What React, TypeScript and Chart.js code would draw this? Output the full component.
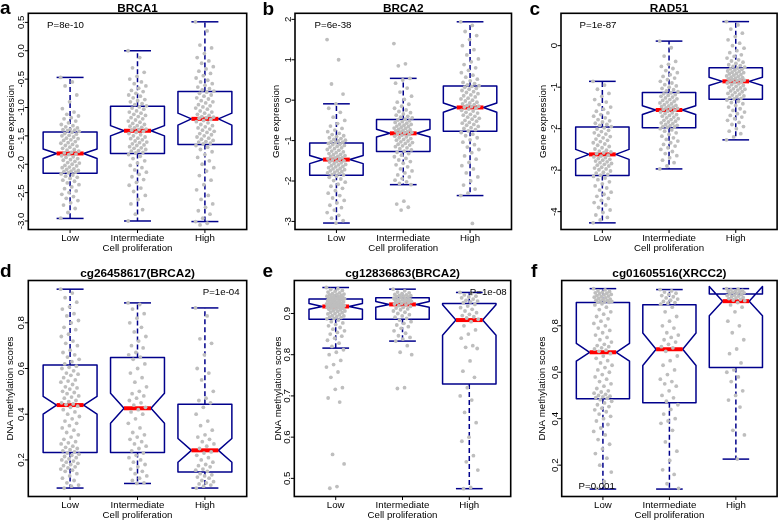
import React, { useEffect, useRef } from 'react';
import { Chart, registerables } from 'chart.js';

Chart.register(...registerables);

const categories = ['Low', 'Intermediate', 'High'];
const xAxisTitle = 'Cell proliferation';

// box stats: [lowerWhisker, q1, notchLow, median, notchHigh, q3, upperWhisker]

// ---- Panel a : BRCA1
const aTitle = 'BRCA1';
const aYLabel = 'Gene expression';
const aPValue = 'P=8e-10';
const aTicks = [0.5, 0, -0.5, -1, -1.5, -2, -2.5, -3];
const aRange = [-3.15, 0.66];
const aBoxLow = [-2.955, -2.16, -1.9, -1.81, -1.73, -1.43, -0.47];
const aBoxInt = [-3.0, -1.81, -1.5, -1.41, -1.32, -0.98, 0.0];
const aBoxHigh = [-3.01, -1.65, -1.31, -1.2, -1.1, -0.72, 0.51];
const aLow = [-0.47, -0.55, -0.62, -0.78, -0.9, -1.02, -1.08, -1.12, -1.15, -1.18, -1.2, -1.24, -1.27, -1.3, -1.32, -1.34, -1.36, -1.38, -1.39, -1.4, -1.41, -1.42,
  -1.44, -1.46, -1.47, -1.49, -1.5, -1.52, -1.54, -1.55, -1.57, -1.58, -1.6, -1.62, -1.63, -1.65, -1.67, -1.68, -1.7, -1.72, -1.74, -1.75, -1.77, -1.79, -1.8,
  -1.82, -1.83, -1.85, -1.87, -1.88, -1.9, -1.92, -1.93, -1.95, -1.97, -1.98, -2.0, -2.02, -2.03, -2.05, -2.06, -2.08, -2.09, -2.11, -2.12, -2.13, -2.14, -2.15,
  -2.17, -2.19, -2.21, -2.23, -2.25, -2.28, -2.3, -2.33, -2.36, -2.4, -2.43, -2.47, -2.5, -2.53, -2.57, -2.6, -2.64, -2.68, -2.72, -2.78, -2.85, -2.95];
const aInt = [0.0, -0.12, -0.3, -0.38, -0.45, -0.5, -0.55, -0.58, -0.62, -0.66, -0.7, -0.72, -0.75, -0.78, -0.8, -0.83, -0.86, -0.88, -0.9, -0.93, -0.95, -0.97,
  -0.99, -1.01, -1.03, -1.06, -1.08, -1.1, -1.12, -1.14, -1.16, -1.18, -1.2, -1.22, -1.24, -1.26, -1.28, -1.3, -1.32, -1.33, -1.35, -1.36, -1.38, -1.39, -1.4,
  -1.42, -1.44, -1.46, -1.48, -1.5, -1.52, -1.54, -1.55, -1.57, -1.59, -1.61, -1.62, -1.64, -1.66, -1.67, -1.69, -1.71, -1.72, -1.74, -1.76, -1.77, -1.79, -1.8,
  -1.83, -1.86, -1.9, -1.94, -1.98, -2.02, -2.06, -2.1, -2.14, -2.18, -2.22, -2.27, -2.32, -2.37, -2.42, -2.48, -2.55, -2.62, -2.7, -2.8, -2.88, -3.0];
const aHigh = [0.51, 0.35, 0.1, 0.05, -0.05, -0.12, -0.18, -0.22, -0.28, -0.32, -0.36, -0.4, -0.44, -0.48, -0.52, -0.55, -0.58, -0.61, -0.64, -0.67, -0.69, -0.71,
  -0.73, -0.75, -0.78, -0.8, -0.83, -0.85, -0.88, -0.9, -0.92, -0.95, -0.97, -0.99, -1.01, -1.03, -1.06, -1.08, -1.1, -1.12, -1.14, -1.16, -1.17, -1.18, -1.19,
  -1.21, -1.23, -1.25, -1.27, -1.3, -1.32, -1.34, -1.36, -1.38, -1.4, -1.42, -1.44, -1.46, -1.48, -1.5, -1.52, -1.54, -1.56, -1.58, -1.6, -1.61, -1.63, -1.64,
  -1.67, -1.7, -1.74, -1.78, -1.83, -1.88, -1.94, -2.0, -2.06, -2.12, -2.2, -2.28, -2.36, -2.45, -2.55, -2.62, -2.7, -2.76, -2.82, -2.88, -2.95, -3.01, -3.04, -3.07];

// ---- Panel b : BRCA2
const bTitle = 'BRCA2';
const bYLabel = 'Gene expression';
const bPValue = 'P=6e-38';
const bTicks = [2, 1, 0, -1, -2, -3];
const bRange = [-3.2, 2.15];
const bBoxLow = [-3.04, -1.86, -1.57, -1.47, -1.37, -1.06, -0.09];
const bBoxInt = [-2.09, -1.27, -0.91, -0.82, -0.72, -0.48, 0.54];
const bBoxHigh = [-2.36, -0.77, -0.3, -0.18, -0.07, 0.35, 1.94];
const bLow = [1.5, 1.0, 0.4, 0.15, -0.09, -0.2, -0.3, -0.42, -0.5, -0.58, -0.64, -0.7, -0.74, -0.78, -0.82, -0.85, -0.88, -0.9, -0.93, -0.95, -0.97, -0.99, -1.01, -1.03, -1.04, -1.05,
  -1.07, -1.09, -1.1, -1.12, -1.14, -1.16, -1.18, -1.2, -1.22, -1.24, -1.26, -1.28, -1.3, -1.32, -1.34, -1.35, -1.37, -1.39, -1.4, -1.42, -1.43, -1.45, -1.46,
  -1.48, -1.5, -1.52, -1.53, -1.55, -1.57, -1.59, -1.6, -1.62, -1.64, -1.65, -1.67, -1.69, -1.7, -1.72, -1.74, -1.75, -1.77, -1.79, -1.8, -1.82, -1.84, -1.85,
  -1.88, -1.91, -1.95, -1.99, -2.03, -2.08, -2.13, -2.18, -2.24, -2.3, -2.36, -2.42, -2.48, -2.54, -2.6, -2.66, -2.72, -2.78, -2.85, -2.92, -2.98, -3.04];
const bInt = [1.4, 0.9, 0.85, 0.54, 0.5, 0.42, 0.3, 0.2, 0.1, 0.02, -0.05, -0.1, -0.15, -0.2, -0.24, -0.28, -0.31, -0.34, -0.37, -0.4, -0.42, -0.44, -0.47,
  -0.49, -0.51, -0.53, -0.55, -0.57, -0.59, -0.6, -0.62, -0.64, -0.65, -0.67, -0.69, -0.7, -0.72, -0.73, -0.75, -0.76, -0.78, -0.79, -0.8, -0.81,
  -0.83, -0.85, -0.87, -0.89, -0.91, -0.93, -0.95, -0.97, -0.99, -1.01, -1.03, -1.05, -1.07, -1.09, -1.11, -1.13, -1.15, -1.18, -1.2, -1.23, -1.26,
  -1.29, -1.32, -1.36, -1.4, -1.44, -1.48, -1.52, -1.56, -1.6, -1.65, -1.7, -1.75, -1.8, -1.85, -1.9, -1.94, -1.98, -2.02, -2.06, -2.09, -2.5, -2.57, -2.65, -2.72];
const bHigh = [1.94, 1.85, 1.7, 1.6, 1.5, 1.35, 1.25, 1.12, 1.02, 0.95, 0.88, 0.8, 0.74, 0.68, 0.62, 0.57, 0.52, 0.48, 0.44, 0.41, 0.38, 0.36,
  0.34, 0.32, 0.29, 0.27, 0.24, 0.21, 0.19, 0.16, 0.13, 0.11, 0.08, 0.05, 0.03, 0.0, -0.02, -0.05, -0.07, -0.09, -0.11, -0.13, -0.15, -0.16, -0.17,
  -0.2, -0.22, -0.25, -0.27, -0.3, -0.32, -0.35, -0.37, -0.4, -0.42, -0.45, -0.47, -0.5, -0.52, -0.55, -0.57, -0.6, -0.62, -0.65, -0.68, -0.7, -0.73, -0.76,
  -0.8, -0.84, -0.88, -0.93, -0.98, -1.04, -1.1, -1.16, -1.22, -1.3, -1.38, -1.46, -1.54, -1.62, -1.7, -1.8, -1.9, -2.0, -2.1, -2.2, -2.3, -2.36, -3.05];

// ---- Panel c : RAD51
const cTitle = 'RAD51';
const cYLabel = 'Gene expression';
const cPValue = 'P=1e-87';
const cTicks = [0, -1, -2, -3, -4];
const cRange = [-4.43, 0.78];
const cBoxLow = [-4.27, -3.13, -2.74, -2.62, -2.5, -1.96, -0.86];
const cBoxInt = [-2.97, -1.98, -1.66, -1.55, -1.45, -1.13, 0.11];
const cBoxHigh = [-2.27, -1.29, -0.96, -0.86, -0.76, -0.53, 0.58];
const cLow = [-0.86, -0.95, -1.05, -1.15, -1.22, -1.3, -1.36, -1.42, -1.48, -1.53, -1.58, -1.62, -1.66, -1.7, -1.74, -1.78, -1.81, -1.84, -1.87, -1.9, -1.92, -1.95,
  -1.98, -2.01, -2.04, -2.07, -2.1, -2.13, -2.16, -2.19, -2.22, -2.25, -2.28, -2.31, -2.34, -2.37, -2.4, -2.43, -2.46, -2.49, -2.52, -2.54, -2.56, -2.58, -2.6,
  -2.64, -2.66, -2.68, -2.7, -2.72, -2.74, -2.76, -2.78, -2.8, -2.82, -2.84, -2.86, -2.88, -2.9, -2.93, -2.95, -2.97, -2.99, -3.02, -3.05, -3.07, -3.1, -3.12,
  -3.15, -3.19, -3.23, -3.28, -3.33, -3.38, -3.43, -3.48, -3.53, -3.58, -3.63, -3.68, -3.73, -3.78, -3.84, -3.9, -3.96, -4.02, -4.08, -4.14, -4.2, -4.27];
const cInt = [0.11, -0.05, -0.25, -0.38, -0.45, -0.5, -0.55, -0.6, -0.65, -0.7, -0.74, -0.78, -0.82, -0.86, -0.9, -0.94, -0.97, -1.0, -1.03, -1.06, -1.09, -1.11,
  -1.14, -1.16, -1.18, -1.2, -1.22, -1.24, -1.26, -1.28, -1.3, -1.32, -1.34, -1.36, -1.38, -1.4, -1.42, -1.44, -1.45, -1.47, -1.48, -1.5, -1.51, -1.52, -1.54,
  -1.56, -1.58, -1.6, -1.62, -1.64, -1.66, -1.68, -1.7, -1.72, -1.74, -1.76, -1.78, -1.8, -1.82, -1.84, -1.86, -1.88, -1.9, -1.92, -1.93, -1.95, -1.96, -1.97,
  -2.0, -2.03, -2.06, -2.1, -2.14, -2.18, -2.22, -2.26, -2.3, -2.34, -2.38, -2.42, -2.46, -2.5, -2.55, -2.6, -2.65, -2.7, -2.76, -2.82, -2.9, -2.97];
const cHigh = [0.58, 0.5, 0.4, 0.3, 0.22, 0.14, 0.06, 0.0, -0.06, -0.12, -0.17, -0.22, -0.26, -0.3, -0.34, -0.37, -0.4, -0.43, -0.46, -0.48, -0.5, -0.52,
  -0.54, -0.56, -0.57, -0.59, -0.61, -0.62, -0.64, -0.65, -0.67, -0.68, -0.7, -0.71, -0.73, -0.74, -0.76, -0.77, -0.78, -0.8, -0.81, -0.82, -0.83, -0.84, -0.85,
  -0.87, -0.89, -0.9, -0.92, -0.94, -0.96, -0.98, -1.0, -1.02, -1.04, -1.05, -1.07, -1.09, -1.11, -1.13, -1.15, -1.17, -1.19, -1.21, -1.23, -1.25, -1.27, -1.28,
  -1.31, -1.34, -1.37, -1.4, -1.44, -1.48, -1.52, -1.56, -1.6, -1.64, -1.68, -1.72, -1.76, -1.8, -1.85, -1.9, -1.95, -2.0, -2.06, -2.12, -2.2, -2.27];

// ---- Panel d : cg26458617(BRCA2)
const dTitle = 'cg26458617(BRCA2)';
const dYLabel = 'DNA methylation scores';
const dPValue = 'P=1e-04';
const dTicks = [0.2, 0.4, 0.6, 0.8];
const dRange = [0.04, 0.985];
const dBoxLow = [0.077, 0.233, 0.4, 0.44, 0.478, 0.615, 0.947];
const dBoxInt = [0.097, 0.233, 0.36, 0.426, 0.492, 0.648, 0.887];
const dBoxHigh = [0.077, 0.147, 0.19, 0.242, 0.294, 0.444, 0.865];
const dLow = [0.947, 0.93, 0.91, 0.89, 0.87, 0.86, 0.84, 0.83, 0.81, 0.8, 0.78, 0.77, 0.75, 0.74, 0.72, 0.71, 0.7, 0.68, 0.67, 0.66, 0.65, 0.64, 0.63, 0.62, 0.61,
  0.605, 0.6, 0.59, 0.58, 0.575, 0.57, 0.56, 0.55, 0.545, 0.54, 0.53, 0.52, 0.515, 0.51, 0.5, 0.495, 0.49, 0.48, 0.475, 0.47, 0.46, 0.455, 0.45, 0.445, 0.442,
  0.435, 0.43, 0.42, 0.41, 0.4, 0.39, 0.38, 0.37, 0.36, 0.35, 0.34, 0.33, 0.32, 0.31, 0.3, 0.29, 0.28, 0.275, 0.27, 0.26, 0.255, 0.25, 0.245, 0.24, 0.235,
  0.23, 0.225, 0.22, 0.215, 0.21, 0.205, 0.2, 0.195, 0.19, 0.185, 0.18, 0.175, 0.17, 0.165, 0.16, 0.155, 0.15, 0.14, 0.13, 0.12, 0.11, 0.1, 0.09, 0.085, 0.077];
const dInt = [0.887, 0.88, 0.86, 0.84, 0.82, 0.8, 0.78, 0.76, 0.74, 0.72, 0.7, 0.69, 0.67, 0.66, 0.65,
  0.64, 0.62, 0.6, 0.58, 0.56, 0.54, 0.52, 0.5, 0.49, 0.48, 0.47, 0.46, 0.45, 0.44, 0.43,
  0.42, 0.41, 0.4, 0.38, 0.36, 0.34, 0.32, 0.31, 0.3, 0.29, 0.28, 0.27, 0.26, 0.25, 0.24,
  0.23, 0.22, 0.21, 0.2, 0.19, 0.18, 0.17, 0.16, 0.15, 0.14, 0.13, 0.12, 0.11, 0.1, 0.097];
const dHigh = [0.865, 0.83, 0.73, 0.71, 0.66, 0.6, 0.58, 0.55, 0.5, 0.47, 0.46, 0.45,
  0.43, 0.4, 0.37, 0.35, 0.33, 0.31, 0.3, 0.29, 0.28, 0.27, 0.26, 0.25,
  0.235, 0.23, 0.22, 0.21, 0.2, 0.19, 0.18, 0.175, 0.17, 0.16, 0.155, 0.15,
  0.14, 0.135, 0.13, 0.125, 0.12, 0.11, 0.105, 0.1, 0.095, 0.09, 0.085, 0.077];

// ---- Panel e : cg12836863(BRCA2)
const eTitle = 'cg12836863(BRCA2)';
const eYLabel = 'DNA methylation scores';
const ePValue = 'P=1e-08';
const eTicks = [0.5, 0.6, 0.7, 0.8, 0.9];
const eRange = [0.456, 0.98];
const eBoxLow = [0.816, 0.886, 0.91, 0.917, 0.924, 0.935, 0.963];
const eBoxInt = [0.833, 0.886, 0.915, 0.922, 0.929, 0.938, 0.959];
const eBoxHigh = [0.475, 0.729, 0.847, 0.884, 0.921, 0.924, 0.951];
const eLow = [0.963, 0.96, 0.958, 0.956, 0.954, 0.952, 0.95, 0.948, 0.947, 0.946, 0.945, 0.944, 0.943, 0.942, 0.941, 0.94, 0.939, 0.938, 0.937, 0.937, 0.936, 0.936, 0.935,
  0.934, 0.933, 0.932, 0.931, 0.93, 0.929, 0.928, 0.927, 0.926, 0.925, 0.924, 0.923, 0.923, 0.922, 0.921, 0.921, 0.92, 0.92, 0.919, 0.919, 0.918, 0.918, 0.917,
  0.916, 0.915, 0.914, 0.913, 0.912, 0.911, 0.91, 0.909, 0.907, 0.906, 0.905, 0.903, 0.902, 0.9, 0.899, 0.897, 0.895, 0.894, 0.892, 0.891, 0.89, 0.888, 0.887,
  0.884, 0.88, 0.877, 0.873, 0.87, 0.866, 0.862, 0.858, 0.854, 0.85, 0.845, 0.84, 0.835, 0.828, 0.82,
  0.812, 0.806, 0.8, 0.786, 0.776, 0.77, 0.758, 0.745, 0.72, 0.716, 0.695, 0.685, 0.558, 0.535, 0.48, 0.476];
const eInt = [0.959, 0.955, 0.952, 0.95, 0.948, 0.946, 0.945, 0.944, 0.943, 0.942, 0.941, 0.94, 0.939,
  0.937, 0.936, 0.935, 0.934, 0.933, 0.932, 0.931, 0.93, 0.929, 0.928, 0.927, 0.926, 0.924, 0.923,
  0.921, 0.919, 0.917, 0.915, 0.913, 0.911, 0.909, 0.906, 0.903, 0.9, 0.897, 0.894, 0.891, 0.888,
  0.884, 0.88, 0.876, 0.872, 0.868, 0.864, 0.858, 0.852, 0.846, 0.842, 0.838, 0.833,
  0.822, 0.806, 0.8, 0.72, 0.718];
const eHigh = [0.951, 0.948, 0.945, 0.942, 0.94, 0.938, 0.935, 0.932, 0.93, 0.928, 0.926,
  0.922, 0.918, 0.914, 0.91, 0.906, 0.902, 0.898, 0.895, 0.892, 0.889, 0.886,
  0.88, 0.87, 0.86, 0.85, 0.84, 0.822, 0.818, 0.815, 0.785, 0.76, 0.745,
  0.72, 0.7, 0.69, 0.66, 0.635, 0.6, 0.59, 0.555, 0.54, 0.52, 0.478, 0.475];

// ---- Panel f : cg01605516(XRCC2)
const fTitle = 'cg01605516(XRCC2)';
const fYLabel = 'DNA methylation scores';
const fPValue = 'P=0.001';
const fTicks = [0.2, 0.4, 0.6, 0.8];
const fRange = [0.065, 0.995];
const fBoxLow = [0.097, 0.486, 0.648, 0.686, 0.724, 0.9, 0.96];
const fBoxInt = [0.097, 0.469, 0.629, 0.699, 0.769, 0.891, 0.956];
const fBoxHigh = [0.226, 0.62, 0.843, 0.906, 0.969, 0.937, 0.96];
const fLow = [0.96, 0.955, 0.95, 0.948, 0.945, 0.942, 0.94, 0.938, 0.935, 0.933, 0.93, 0.928, 0.925, 0.923, 0.92, 0.918, 0.915, 0.913, 0.91, 0.908, 0.906, 0.905, 0.903, 0.902, 0.901,
  0.895, 0.89, 0.88, 0.87, 0.86, 0.85, 0.84, 0.83, 0.82, 0.81, 0.8, 0.79, 0.78, 0.77, 0.76, 0.75, 0.74, 0.73, 0.72, 0.715, 0.71, 0.705, 0.7, 0.695, 0.69,
  0.68, 0.67, 0.66, 0.65, 0.64, 0.63, 0.62, 0.61, 0.6, 0.59, 0.58, 0.57, 0.56, 0.55, 0.54, 0.53, 0.52, 0.515, 0.51, 0.505, 0.5, 0.497, 0.494, 0.491, 0.488,
  0.482, 0.475, 0.468, 0.46, 0.452, 0.445, 0.438, 0.43, 0.42, 0.41, 0.4, 0.39, 0.375, 0.36, 0.345, 0.33, 0.31, 0.29, 0.27, 0.25, 0.23, 0.2, 0.17, 0.13, 0.1];
const fInt = [0.956, 0.95, 0.945, 0.94, 0.935, 0.93, 0.925, 0.92, 0.915, 0.91, 0.905, 0.9, 0.897, 0.893,
  0.88, 0.86, 0.84, 0.82, 0.8, 0.79, 0.77, 0.76, 0.75, 0.74, 0.73, 0.72, 0.71, 0.705,
  0.69, 0.67, 0.65, 0.63, 0.61, 0.59, 0.57, 0.56, 0.55, 0.54, 0.52, 0.5, 0.49, 0.475,
  0.46, 0.44, 0.42, 0.4, 0.39, 0.38, 0.35, 0.3, 0.26, 0.22, 0.18, 0.16, 0.12, 0.1];
const fHigh = [0.96, 0.958, 0.955, 0.952, 0.95, 0.948, 0.946, 0.944, 0.942, 0.94, 0.938,
  0.935, 0.932, 0.93, 0.928, 0.925, 0.922, 0.92, 0.917, 0.914, 0.911, 0.908,
  0.9, 0.89, 0.88, 0.86, 0.82, 0.8, 0.77, 0.74, 0.7, 0.68, 0.64,
  0.61, 0.6, 0.58, 0.56, 0.52, 0.5, 0.48, 0.45, 0.35, 0.33, 0.226];

const BLUE = '#00008B';
const RED = '#FF0000';
const GRAY = '#BEBEBE';
const FONT = '"Liberation Sans", Arial, Helvetica, sans-serif';

type PanelCfg = {
  letter: string; title: string; yLabel: string; pValue: string;
  ticks: number[]; range: number[]; decimals: number;
  boxes: number[][]; groups: number[][];
  cx: number; cy: number; cw: number; ch: number; // canvas
  L: number; R: number; T: number; B: number; // plot area (absolute)
  letterX: number; letterY: number; titleY: number;
  pX: number; pY: number; yTitleX: number;
};

const PANELS: PanelCfg[] = [
  { letter: 'a', title: aTitle, yLabel: aYLabel, pValue: aPValue, ticks: aTicks, range: aRange, decimals: 1,
    boxes: [aBoxLow, aBoxInt, aBoxHigh], groups: [aLow, aInt, aHigh],
    cx: 0, cy: 0, cw: 260, ch: 260, L: 28.3, R: 246.7, T: 13.3, B: 229.5,
    letterX: 0, letterY: 14, titleY: 8.3, pX: 65.5, pY: 25, yTitleX: 11.7 },
  { letter: 'b', title: bTitle, yLabel: bYLabel, pValue: bPValue, ticks: bTicks, range: bRange, decimals: 0,
    boxes: [bBoxLow, bBoxInt, bBoxHigh], groups: [bLow, bInt, bHigh],
    cx: 260, cy: 0, cw: 259, ch: 260, L: 295, R: 511.5, T: 13.3, B: 229.5,
    letterX: 262.5, letterY: 15, titleY: 8.3, pX: 333, pY: 25, yTitleX: 276.7 },
  { letter: 'c', title: cTitle, yLabel: cYLabel, pValue: cPValue, ticks: cTicks, range: cRange, decimals: 0,
    boxes: [cBoxLow, cBoxInt, cBoxHigh], groups: [cLow, cInt, cHigh],
    cx: 519, cy: 0, cw: 260, ch: 260, L: 561, R: 778, T: 13.3, B: 229.5,
    letterX: 529.5, letterY: 15, titleY: 8.3, pX: 598, pY: 25.5, yTitleX: 543 },
  { letter: 'd', title: dTitle, yLabel: dYLabel, pValue: dPValue, ticks: dTicks, range: dRange, decimals: 1,
    boxes: [dBoxLow, dBoxInt, dBoxHigh], groups: [dLow, dInt, dHigh],
    cx: 0, cy: 260, cw: 260, ch: 261, L: 28.3, R: 246.7, T: 280.5, B: 496.5,
    letterX: 0, letterY: 277.3, titleY: 273.3, pX: 221.2, pY: 292.3, yTitleX: 10.7 },
  { letter: 'e', title: eTitle, yLabel: eYLabel, pValue: ePValue, ticks: eTicks, range: eRange, decimals: 1,
    boxes: [eBoxLow, eBoxInt, eBoxHigh], groups: [eLow, eInt, eHigh],
    cx: 260, cy: 260, cw: 259, ch: 261, L: 294.3, R: 510.7, T: 280.5, B: 496.5,
    letterX: 262.5, letterY: 277.3, titleY: 273.3, pX: 488.3, pY: 292.3, yTitleX: 278.3 },
  { letter: 'f', title: fTitle, yLabel: fYLabel, pValue: fPValue, ticks: fTicks, range: fRange, decimals: 1,
    boxes: [fBoxLow, fBoxInt, fBoxHigh], groups: [fLow, fInt, fHigh],
    cx: 519, cy: 260, cw: 260, ch: 261, L: 561.7, R: 778.5, T: 280.5, B: 496.5,
    letterX: 531, letterY: 276.7, titleY: 273.3, pX: 596.7, pY: 486, yTitleX: 542.7 },
];

function jitter(j: number) {
  return (((j * 0.6180339887) % 1) - 0.5) * 0.28;
}

function fmt(v: number, d: number) {
  return v.toFixed(d);
}

function makePlugin(p: PanelCfg) {
  const seg = (ctx: CanvasRenderingContext2D, x1: number, y1: number, x2: number, y2: number) => {
    ctx.beginPath(); ctx.moveTo(x1, y1); ctx.lineTo(x2, y2); ctx.stroke();
  };
  return {
    id: 'boxpanel',
    beforeDatasetsDraw(chart: any) {
      const { ctx } = chart;
      const xs = chart.scales.x, ys = chart.scales.y;
      const X = (v: number) => xs.getPixelForValue(v);
      const Y = (v: number) => ys.getPixelForValue(v);
      ctx.save();
      p.boxes.forEach((b, i) => {
        const [lo, q1, nl, med, nh, q3, hi] = b;
        const c = i + 1;
        ctx.strokeStyle = BLUE;
        ctx.lineWidth = 1.5;
        ctx.lineCap = 'butt';
        ctx.setLineDash([5, 3]);
        seg(ctx, X(c), Y(q3), X(c), Y(hi));
        seg(ctx, X(c), Y(q1), X(c), Y(lo));
        ctx.setLineDash([]);
        seg(ctx, X(c - 0.2), Y(hi), X(c + 0.2), Y(hi));
        seg(ctx, X(c - 0.2), Y(lo), X(c + 0.2), Y(lo));
        ctx.beginPath();
        ctx.moveTo(X(c - 0.4), Y(q1));
        ctx.lineTo(X(c - 0.4), Y(nl));
        ctx.lineTo(X(c - 0.2), Y(med));
        ctx.lineTo(X(c - 0.4), Y(nh));
        ctx.lineTo(X(c - 0.4), Y(q3));
        ctx.lineTo(X(c + 0.4), Y(q3));
        ctx.lineTo(X(c + 0.4), Y(nh));
        ctx.lineTo(X(c + 0.2), Y(med));
        ctx.lineTo(X(c + 0.4), Y(nl));
        ctx.lineTo(X(c + 0.4), Y(q1));
        ctx.closePath();
        ctx.lineJoin = 'round';
        ctx.stroke();
        ctx.strokeStyle = RED;
        ctx.lineWidth = 4;
        seg(ctx, X(c - 0.2), Y(med), X(c + 0.2), Y(med));
      });
      ctx.restore();
    },
    afterDatasetsDraw(chart: any) {
      const { ctx, chartArea: ca } = chart;
      const xs = chart.scales.x, ys = chart.scales.y;
      const ox = p.cx, oy = p.cy;
      ctx.save();
      ctx.strokeStyle = '#000';
      ctx.lineWidth = 1.6;
      ctx.strokeRect(ca.left, ca.top, ca.right - ca.left, ca.bottom - ca.top);
      ctx.fillStyle = '#000';
      ctx.lineWidth = 1;
      // y ticks
      ctx.font = `9.7px ${FONT}`;
      p.ticks.forEach((t) => {
        const py = ys.getPixelForValue(t);
        seg(ctx, ca.left - 3.5, py, ca.left, py);
        ctx.save();
        ctx.translate(ca.left - 6.5, py);
        ctx.rotate(-Math.PI / 2);
        ctx.textAlign = 'center';
        ctx.textBaseline = 'middle';
        ctx.fillText(fmt(t, p.decimals), 0, 0);
        ctx.restore();
      });
      // x ticks
      ctx.textAlign = 'center';
      ctx.textBaseline = 'middle';
      categories.forEach((c, i) => {
        const px = xs.getPixelForValue(i + 1);
        seg(ctx, px, ca.bottom, px, ca.bottom + 3.5);
        ctx.fillText(c, px, ca.bottom + 9);
      });
      ctx.fillText(xAxisTitle, (ca.left + ca.right) / 2, ca.bottom + 19);
      // y title
      ctx.save();
      ctx.translate(p.yTitleX - ox, (ca.top + ca.bottom) / 2);
      ctx.rotate(-Math.PI / 2);
      ctx.fillText(p.yLabel, 0, 0);
      ctx.restore();
      // p value
      ctx.fillText(p.pValue, p.pX - ox, p.pY - oy);
      // title
      ctx.font = `bold 11.8px ${FONT}`;
      ctx.fillText(p.title, (ca.left + ca.right) / 2, p.titleY - oy);
      // letter
      ctx.font = `bold 19px ${FONT}`;
      ctx.textAlign = 'left';
      ctx.textBaseline = 'alphabetic';
      ctx.fillText(p.letter, p.letterX - ox, p.letterY - oy);
      ctx.restore();
    },
  };
}

function Panel({ p }: { p: PanelCfg }) {
  const ref = useRef<HTMLCanvasElement>(null);
  useEffect(() => {
    const points: { x: number; y: number }[] = [];
    p.groups.forEach((g, i) => {
      g.forEach((v, j) => points.push({ x: i + 1 + jitter(j), y: v }));
    });
    const chart = new Chart(ref.current as HTMLCanvasElement, {
      type: 'scatter',
      data: {
        datasets: [{
          data: points,
          pointRadius: 1.9,
          pointHoverRadius: 1.9,
          pointBackgroundColor: GRAY,
          pointBorderWidth: 0,
          pointBorderColor: GRAY,
        }],
      },
      options: {
        responsive: false,
        animation: false,
        events: [],
        layout: {
          padding: {
            left: p.L - p.cx,
            top: p.T - p.cy,
            right: p.cx + p.cw - p.R,
            bottom: p.cy + p.ch - p.B,
          },
        },
        scales: {
          x: { type: 'linear', display: false, min: 0.38, max: 3.62 },
          y: { type: 'linear', display: false, min: p.range[0], max: p.range[1] },
        },
        plugins: { legend: { display: false }, tooltip: { enabled: false }, title: { display: false } },
      },
      plugins: [makePlugin(p) as any],
    });
    return () => chart.destroy();
  }, []);
  return (
    <canvas
      ref={ref}
      width={p.cw}
      height={p.ch}
      style={{ position: 'absolute', left: p.cx, top: p.cy, width: p.cw, height: p.ch }}
    />
  );
}

export default function App() {
  return (
    <div style={{ position: 'fixed', left: 0, top: 0, width: 779, height: 521, background: '#fff', overflow: 'hidden' }}>
      {PANELS.map((p) => <Panel key={p.letter} p={p} />)}
    </div>
  );
}
